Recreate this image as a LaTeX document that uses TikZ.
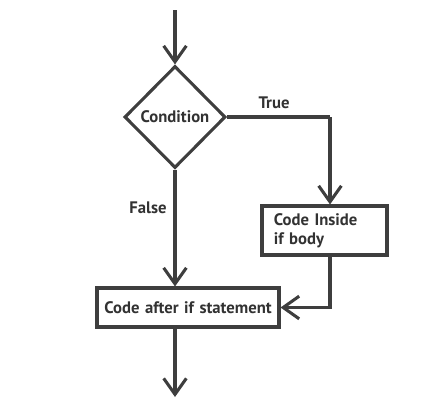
\documentclass[tikz,border=0pt]{standalone}
\usepackage{fontspec}
\setmainfont{PT Sans}
\usepackage{tikz}
\usetikzlibrary{arrows.meta,shapes.geometric}
\definecolor{flowgray}{RGB}{62,62,62}
\definecolor{labelgray}{RGB}{50,50,50}
\newcommand{\flowfont}{\fontsize{12.5}{14}\selectfont\bfseries}
\tikzset{
  flowline/.style={line width=2.3pt,flowgray,-{Straight Barb[length=12pt,width=17pt,line width=2.3pt]}},
  plainline/.style={line width=2.3pt,flowgray},
  decision/.style={diamond,draw=flowgray,line width=2.3pt,minimum width=75.75pt,minimum height=76.5pt,inner sep=0pt,font=\flowfont,text=labelgray},
  process/.style={rectangle,draw=flowgray,line width=2.3pt,inner sep=0pt,font=\flowfont,text=labelgray},
  branchlabel/.style={font=\flowfont,text=labelgray}
}

\begin{document}
\begin{tikzpicture}[x=0.75pt,y=-0.75pt]
  \useasboundingbox (0,0) rectangle (447,400);
  \node[decision] (cond) at (175,117) {Condition};
  \node[process,minimum width=93.75pt,minimum height=36.75pt,text width=76pt,align=left] (body) at (324.5,230.5) {Code Inside\\if body};
  \node[process,minimum width=136.5pt,minimum height=29.25pt,text width=125.5pt,align=right] (after) at (188,307.5) {Code after if statement};
  \coordinate (start) at (175,10);
  \coordinate (stop) at (175,397);
  \coordinate (turn) at (330,117);
  \node[branchlabel] (truelbl) at (274,103) {True};
  \node[branchlabel] (falselbl) at (148,208) {False};
  \draw[flowline] (start) -- (cond.north);
  \draw[plainline] (cond.east) -- (turn);
  \draw[flowline] (turn) -- (turn |- body.north);
  \draw[flowline] (cond.south) -- (cond.south |- after.north);
  \draw[flowline] (turn |- body.south) -- (turn |- after.east) -- (after.east);
  \draw[flowline] (cond.south |- after.south) -- (stop);
\end{tikzpicture}
\end{document}
